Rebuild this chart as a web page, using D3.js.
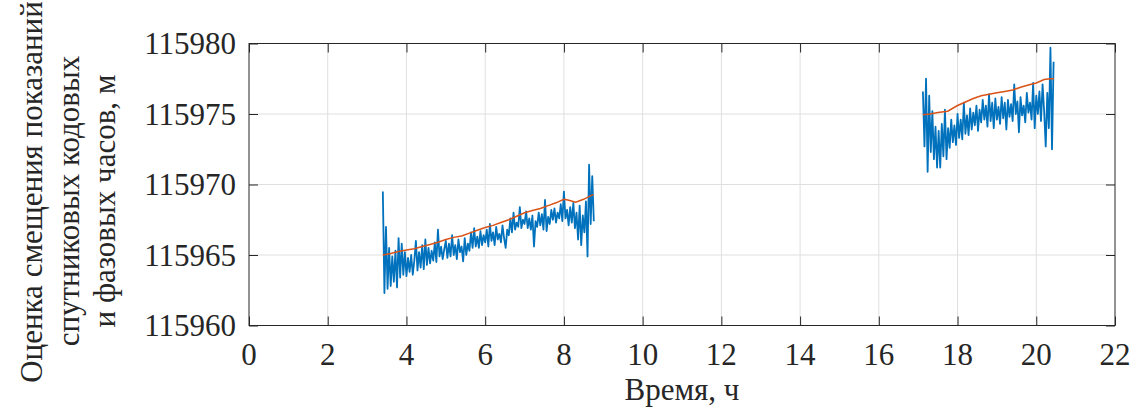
<!DOCTYPE html>
<html>
<head>
<meta charset="utf-8">
<script src="https://cdn.jsdelivr.net/npm/d3@7"></script>
<style>
  body { margin: 0; background: #fff; }
</style>
</head>
<body>
<div id="chart"></div>
<script>
// data
var xTicks = [0, 2, 4, 6, 8, 10, 12, 14, 16, 18, 20, 22];
var yTicks = [115960, 115965, 115970, 115975, 115980];

// blue series: first sample time, step (h), values (m)
var blue1Start = 3.40, blue1Step = 0.04;
var blue1 = [
  115969.5, 115962.3, 115967.0, 115962.6, 115965.5, 115962.8, 115964.9, 115963.1, 115965.3, 115962.7,
  115966.2, 115963.4, 115965.8, 115963.6, 115965.2, 115963.5, 115964.8, 115963.8, 115965.0, 115963.6,
  115964.6, 115966.0, 115963.9, 115965.2, 115964.1, 115965.7, 115964.0, 115966.1, 115964.3, 115965.5,
  115964.4, 115965.3, 115964.6, 115965.9, 115964.5, 115966.8, 115964.9, 115965.6, 115964.7, 115965.4,
  115966.0, 115964.8, 115965.8, 115964.9, 115966.4, 115965.0, 115965.7, 115964.7, 115966.1, 115965.2,
  115965.6, 115964.55, 115966.2, 115965.0, 115965.8, 115965.3, 115966.6, 115965.5, 115966.9, 115965.6,
  115966.3, 115965.5, 115966.7, 115965.7, 115966.4, 115965.9, 115966.8, 115965.6, 115967.2, 115966.0,
  115966.6, 115965.7, 115967.0, 115966.1, 115966.5, 115965.9, 115967.1, 115966.2, 115965.5, 115966.8,
  115966.4, 115967.6, 115966.6, 115968.0, 115966.8, 115967.3, 115967.0, 115968.4, 115966.9, 115967.5,
  115967.2, 115968.1, 115966.9, 115967.6, 115966.8, 115967.8, 115965.6, 115967.4, 115967.0, 115968.0,
  115967.1, 115967.9, 115966.8, 115968.9, 115966.7, 115967.7, 115967.2, 115968.2, 115967.5, 115968.3,
  115967.3, 115968.0, 115967.6, 115968.6, 115967.4, 115969.5, 115967.6, 115968.2, 115967.1, 115968.4,
  115967.3, 115968.7, 115966.9, 115968.0, 115966.1, 115968.5, 115965.7, 115967.8, 115966.6, 115968.8,
  115964.9, 115971.4, 115967.2, 115970.6, 115967.4
];
var blue2Start = 17.12, blue2Step = 0.04;
var blue2 = [
  115976.6, 115972.7, 115977.5, 115970.9, 115976.3, 115972.3, 115975.2, 115971.8, 115974.1, 115971.2,
  115973.8, 115971.2, 115974.3, 115972.0, 115975.3, 115971.8, 115974.0, 115972.6, 115974.6, 115973.0,
  115974.2, 115972.8, 115975.0, 115973.3, 115974.6, 115973.2, 115975.8, 115973.6, 115974.9, 115973.5,
  115975.4, 115973.9, 115975.1, 115974.2, 115975.6, 115973.8, 115975.3, 115974.4, 115976.0, 115974.6,
  115975.6, 115974.1, 115976.4, 115974.5, 115975.8, 115974.0, 115976.1, 115974.6, 115975.5, 115974.3,
  115976.2, 115974.7, 115975.8, 115973.9, 115976.0, 115974.8, 115975.7, 115974.5, 115977.1, 115975.0,
  115975.9, 115973.7, 115976.2, 115974.9, 115975.6, 115974.4, 115976.5, 115975.1, 115975.8, 115974.6,
  115977.2, 115974.0, 115976.3, 115975.0, 115976.6, 115974.5, 115977.1, 115975.2, 115972.7, 115976.5,
  115974.0, 115979.7, 115972.5, 115978.7
];

// orange trend
var orange1T = [3.40, 3.6, 3.8, 4.0, 4.2, 4.4, 4.6, 4.8, 5.0, 5.2, 5.4, 5.6, 5.8, 6.0, 6.2, 6.4, 6.6, 6.8, 7.0, 7.2, 7.4, 7.6, 7.8, 8.0, 8.1, 8.3, 8.5, 8.75];
var orange1V = [115965.0, 115965.1, 115965.25, 115965.35, 115965.45, 115965.6, 115965.75, 115965.9, 115966.1, 115966.25, 115966.35, 115966.55, 115966.75, 115966.95, 115967.1, 115967.3, 115967.5, 115967.75, 115968.0, 115968.15, 115968.3, 115968.5, 115968.7, 115968.95, 115968.9, 115968.75, 115968.95, 115969.3];
var orange2T = [17.12, 17.3, 17.5, 17.75, 18.0, 18.2, 18.4, 18.6, 18.8, 19.0, 19.2, 19.4, 19.6, 19.8, 20.0, 20.2, 20.35, 20.45];
var orange2V = [115974.95, 115975.0, 115975.1, 115975.2, 115975.6, 115975.85, 115976.1, 115976.3, 115976.4, 115976.5, 115976.6, 115976.7, 115976.9, 115977.05, 115977.2, 115977.45, 115977.5, 115977.5];

var W = 1138, H = 412;
var margin = {left: 249, top: 43.5, right: 23, bottom: 86.5};
var w = W - margin.left - margin.right, h = H - margin.top - margin.bottom;
// serif face only picks up at small sizes here, so draw at 26px and scale up
var FONT = "'Liberation Serif'", FS = 26, K = 31 / 26;

var svg = d3.select("#chart").append("svg")
  .attr("width", W).attr("height", H);
var g = svg.append("g").attr("transform", "translate(" + margin.left + "," + margin.top + ")");

var x = d3.scaleLinear().domain([0, 22]).range([0, w]);
var y = d3.scaleLinear().domain([115960, 115980]).range([h, 0]);

function label(parent, tx, ty, rot, anchor, dy, txt) {
  parent.append("g")
    .attr("transform", "translate(" + tx + "," + ty + ")" + (rot ? " rotate(" + rot + ")" : "") + " scale(" + K + ")")
    .append("text")
    .attr("text-anchor", anchor).attr("dy", dy).attr("fill", "#262626")
    .style("font-family", FONT).style("font-size", FS + "px")
    .text(txt);
}

// grid
g.append("g").selectAll("line").data(xTicks.slice(1, -1)).join("line")
  .attr("x1", d => x(d)).attr("x2", d => x(d)).attr("y1", 0).attr("y2", h)
  .attr("stroke", "#dfdfdf").attr("stroke-width", 1);
g.append("g").selectAll("line").data(yTicks.slice(1, -1)).join("line")
  .attr("y1", d => y(d)).attr("y2", d => y(d)).attr("x1", 0).attr("x2", w)
  .attr("stroke", "#dfdfdf").attr("stroke-width", 1);

// lines
var line = d3.line().x(d => x(d[0])).y(d => y(d[1]));
function series(start, step, vals) {
  return vals.map((v, i) => [start + i * step, v]);
}
[series(blue1Start, blue1Step, blue1), series(blue2Start, blue2Step, blue2)].forEach(function (s) {
  g.append("path").datum(s).attr("d", line)
    .attr("fill", "none").attr("stroke", "#0072BD").attr("stroke-width", 1.8)
    .attr("stroke-linejoin", "round");
});
[[orange1T, orange1V], [orange2T, orange2V]].forEach(function (o) {
  g.append("path").datum(o[0].map((t, i) => [t, o[1][i]])).attr("d", line)
    .attr("fill", "none").attr("stroke", "#D95319").attr("stroke-width", 1.5);
});

// axes (ticks inward on all four sides)
function styleAxis(sel) {
  sel.select(".domain").remove();
  sel.selectAll("line").attr("stroke", "#262626");
}
g.append("g").attr("transform", "translate(0," + h + ")")
  .call(d3.axisBottom(x).tickValues(xTicks).tickSize(-9).tickFormat(""))
  .call(styleAxis);
g.append("g")
  .call(d3.axisTop(x).tickValues(xTicks).tickSize(-9).tickFormat(""))
  .call(styleAxis);
g.append("g")
  .call(d3.axisLeft(y).tickValues(yTicks).tickSize(-9).tickFormat(""))
  .call(styleAxis);
g.append("g").attr("transform", "translate(" + w + ",0)")
  .call(d3.axisRight(y).tickValues(yTicks).tickSize(-9).tickFormat(""))
  .call(styleAxis);

g.append("rect").attr("width", w).attr("height", h)
  .attr("fill", "none").attr("stroke", "#262626").attr("stroke-width", 1);

// tick labels
xTicks.forEach(function (d) { label(g, x(d), h + 39, 0, "middle", 0, d); });
yTicks.forEach(function (d) { label(g, -13, y(d), 0, "end", "0.34em", d); });

// titles
label(svg, margin.left + w / 2, 400, 0, "middle", 0, "Время, ч");

var yTitle = ["Оценка смещения показаний", "спутниковых кодовых", "и фазовых часов, м"];
var yTitleX = [42, 79, 115];
var yTitleY = [192, 201, 201];
yTitle.forEach(function (t, i) {
  label(svg, yTitleX[i], yTitleY[i], -90, "middle", 0, t);
});
</script>
</body>
</html>
